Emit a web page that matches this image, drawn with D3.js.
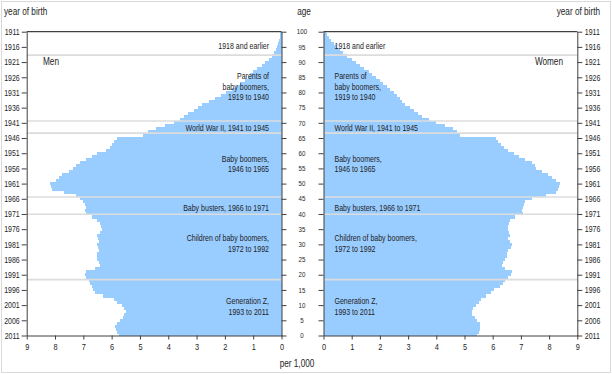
<!DOCTYPE html>
<html><head><meta charset="utf-8">
<script src="https://cdn.jsdelivr.net/npm/d3@7"></script>
<style>
body{margin:0;background:#fff}
svg{display:block}
text{font-family:"Liberation Sans",Arial,sans-serif;fill:#1e1e1e}
</style>
</head><body><svg id="c" width="612" height="374"></svg>
<script>
// ---- data ----
const ages = [0,1,2,3,4,5,6,7,8,9,10,11,12,13,14,15,16,17,18,19,20,21,22,23,24,25,26,27,28,29,30,31,32,33,34,35,36,37,38,39,40,41,42,43,44,45,46,47,48,49,50,51,52,53,54,55,56,57,58,59,60,61,62,63,64,65,66,67,68,69,70,71,72,73,74,75,76,77,78,79,80,81,82,83,84,85,86,87,88,89,90,91,92,93,94,95,96,97,98,99,100];
const men = [5.75,5.8,5.85,5.88,5.8,5.7,5.6,5.55,5.5,5.55,5.65,5.8,5.9,6.3,6.6,6.67,6.7,6.75,6.8,6.9,6.93,6.92,6.6,6.42,6.45,6.5,6.52,6.5,6.45,6.48,6.5,6.45,6.47,6.5,6.42,6.35,6.38,6.4,6.5,6.7,6.9,6.95,6.9,6.95,7.0,7.1,7.25,7.7,8.1,8.15,8.18,7.95,7.85,7.75,7.5,7.35,7.25,7.1,6.9,6.7,6.5,6.2,6.05,5.98,5.9,5.8,4.88,4.7,4.45,4.1,3.8,3.6,3.45,3.3,3.1,2.95,2.8,2.55,2.35,2.15,1.95,1.75,1.6,1.45,1.3,1.2,1.1,1.0,0.85,0.7,0.6,0.45,0.35,0.25,0.2,0.16,0.12,0.09,0.07,0.05,0.04];
const women = [5.45,5.5,5.55,5.55,5.55,5.45,5.37,5.28,5.26,5.3,5.4,5.5,5.6,5.75,5.95,6.05,6.25,6.35,6.45,6.55,6.65,6.67,6.45,6.32,6.35,6.45,6.5,6.5,6.55,6.65,6.67,6.6,6.55,6.6,6.58,6.55,6.55,6.58,6.62,6.8,7.08,7.05,7.08,7.1,7.15,7.4,7.9,8.25,8.3,8.35,8.38,8.25,8.1,7.95,7.75,7.55,7.5,7.4,7.15,6.95,6.75,6.55,6.4,6.3,6.2,6.1,4.85,4.75,4.6,4.3,4.0,3.75,3.5,3.35,3.2,3.05,2.9,2.8,2.7,2.6,2.5,2.35,2.25,2.12,2.0,1.85,1.72,1.6,1.45,1.3,1.15,1.0,0.85,0.7,0.58,0.47,0.36,0.27,0.2,0.14,0.09];
const yearTicks = [1911,1916,1921,1926,1931,1936,1941,1946,1951,1956,1961,1966,1971,1976,1981,1986,1991,1996,2001,2006,2011];
const ageTicks = [0,5,10,15,20,25,30,35,40,45,50,55,60,65,70,75,80,85,90,95,100];
const valueTicks = [0,1,2,3,4,5,6,7,8,9];
const cohortBoundaries = [92.3, 70.6, 66.6, 45.6, 39.9, 18.4];
const cohortLabels = [
  ["1918 and earlier"],
  ["Parents of","baby boomers,","1919 to 1940"],
  ["World War II, 1941 to 1945"],
  ["Baby boomers,","1946 to 1965"],
  ["Baby busters, 1966 to 1971"],
  ["Children of baby boomers,","1972 to 1992"],
  ["Generation Z,","1993 to 2011"]
];
const cohortLabelAges = [95.3, 82.0, 68.5, 56.5, 41.9, 30.3, 9.6];

// ---- layout ----
const svg = d3.select("#c");
const xL = d3.scaleLinear([0,9],[281.5,26.7]);
const xR = d3.scaleLinear([0,9],[323.5,577.3]);
const y = d3.scaleLinear([0,100],[335.5,31.7]);
const yearScale = d3.scaleLinear([2011,1911],[335.5,31.7]);
const blue = "#99ccff", axisCol = "#404040";

svg.append("rect").attr("x",1.5).attr("y",1.5).attr("width",609).attr("height",371)
  .attr("fill","none").attr("stroke","#d9d9d9");

function bars(vals, xs, left){
  svg.append("g").selectAll("rect").data(ages).join("rect")
    .attr("shape-rendering","crispEdges")
    .attr("fill", blue)
    .attr("x", (a,i)=> left ? xs(vals[i]) : xs(0))
    .attr("width", (a,i)=> Math.abs(xs(vals[i]) - xs(0)))
    .attr("y", a => y(Math.min(100, a+0.5)))
    .attr("height", a => y(Math.max(0, a-0.5)) - y(Math.min(100, a+0.5)));
}
bars(men, xL, true);
bars(women, xR, false);

// cohort separators
[[xL(9),xL(0)],[xR(0),xR(9)]].forEach(([a,b])=>{
  svg.append("g").selectAll("line").data(cohortBoundaries).join("line")
    .attr("x1",a).attr("x2",b).attr("y1",d=>y(d)).attr("y2",d=>y(d))
    .attr("stroke","#dcdcdc").attr("stroke-width",1.6);
});

// cohort labels
const lh = 10.5;
cohortLabels.forEach((lines,i)=>{
  const c = y(cohortLabelAges[i]);
  const top = c - (lines.length-1)*lh/2 + 3.2;
  lines.forEach((t,j)=>{
    svg.append("text").attr("class","sq78").attr("x",269).attr("y",top+j*lh).attr("text-anchor","end")
      .attr("font-size",9).text(t);
    svg.append("text").attr("class","sq78").attr("x",334.5).attr("y",top+j*lh).attr("text-anchor","start")
      .attr("font-size",9).text(t);
  });
});

// axes
function styleAxis(g, fs){
  g.selectAll("path.domain").attr("stroke",axisCol);
  g.selectAll(".tick line").attr("stroke",axisCol);
  g.selectAll(".tick text").attr("font-size",fs).attr("fill","#1e1e1e")
    .attr("font-family",'"Liberation Sans",Arial,sans-serif');
}
styleAxis(svg.append("g").attr("transform",`translate(${xL(9)},0)`)
  .call(d3.axisLeft(yearScale).tickValues(yearTicks).tickFormat(d3.format("d")).tickSize(5).tickSizeOuter(0).tickPadding(2)), 8.5);
styleAxis(svg.append("g").attr("transform",`translate(${xR(9)},0)`)
  .call(d3.axisRight(yearScale).tickValues(yearTicks).tickFormat(d3.format("d")).tickSize(5).tickSizeOuter(0).tickPadding(2.5)), 8.5);
styleAxis(svg.append("g").attr("transform",`translate(${xL(0)},0)`)
  .call(d3.axisRight(y).tickValues(ageTicks).tickFormat("").tickSize(5).tickSizeOuter(0)), 8);
styleAxis(svg.append("g").attr("transform",`translate(${xR(0)},0)`)
  .call(d3.axisLeft(y).tickValues(ageTicks).tickFormat("").tickSize(5).tickSizeOuter(0)), 8);
styleAxis(svg.append("g").attr("transform",`translate(0,${y(0)})`)
  .call(d3.axisBottom(xL).tickValues(valueTicks).tickFormat(d3.format("d")).tickSize(4).tickSizeOuter(0).tickPadding(4)), 9);
styleAxis(svg.append("g").attr("transform",`translate(0,${y(0)})`)
  .call(d3.axisBottom(xR).tickValues(valueTicks).tickFormat(d3.format("d")).tickSize(4).tickSizeOuter(0).tickPadding(4)), 9);

// top borders
[[xL(9),xL(0)],[xR(0),xR(9)]].forEach(([a,b])=>{
  svg.append("line").attr("x1",a).attr("x2",b).attr("y1",y(100)).attr("y2",y(100))
    .attr("stroke",axisCol).attr("stroke-width",1.2);
});

// age labels in the middle
svg.append("g").selectAll("text").data(ageTicks).join("text")
  .attr("x",302).attr("y",d=>y(d)+2.7).attr("text-anchor","middle")
  .attr("font-size",7.5).text(d=>d);

// titles
svg.append("text").attr("x",4).attr("y",14.5).attr("font-size",10).text("year of birth");
svg.append("text").attr("x",600).attr("y",14.5).attr("font-size",10).attr("text-anchor","end").text("year of birth");
svg.append("text").attr("x",304).attr("y",14.5).attr("font-size",10).attr("text-anchor","middle").text("age");
svg.append("text").attr("x",297).attr("y",367).attr("font-size",10).attr("text-anchor","middle").text("per 1,000");
svg.append("text").attr("x",43).attr("y",65).attr("font-size",10).text("Men");
svg.append("text").attr("x",563).attr("y",64.5).attr("font-size",10).attr("text-anchor","end").text("Women");

// condense all text to mimic a narrow face
svg.selectAll("text").each(function(){
  const f = this.classList.contains("sq78") ? 0.78 : 0.82;
  const w = this.getComputedTextLength();
  if (w > 0) d3.select(this).attr("textLength", w*f).attr("lengthAdjust","spacingAndGlyphs");
});
</script>
</body></html>
